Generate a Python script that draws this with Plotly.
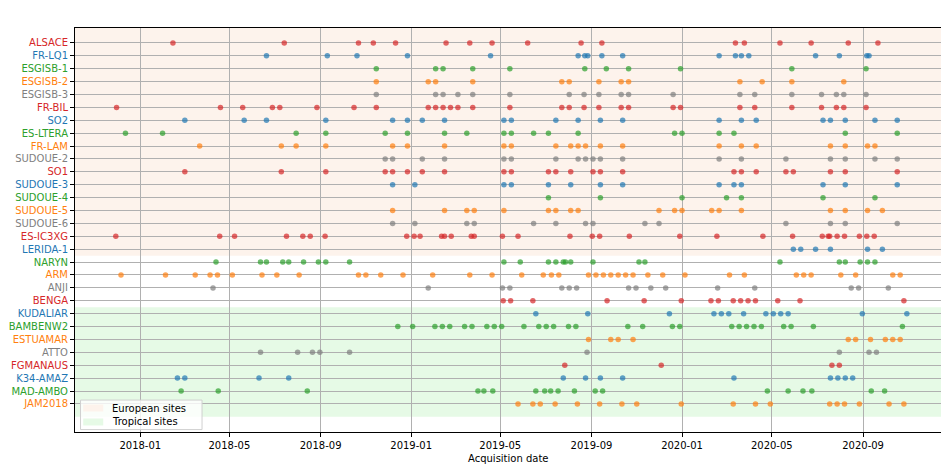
import plotly.graph_objects as go

SITES = ["ALSACE", "FR-LQ1", "ESGISB-1", "ESGISB-2", "ESGISB-3", "FR-BIL", "SO2", "ES-LTERA",
         "FR-LAM", "SUDOUE-2", "SO1", "SUDOUE-3", "SUDOUE-4", "SUDOUE-5", "SUDOUE-6", "ES-IC3XG",
         "LERIDA-1", "NARYN", "ARM", "ANJI", "BENGA", "KUDALIAR", "BAMBENW2", "ESTUAMAR", "ATTO",
         "FGMANAUS", "K34-AMAZ", "MAD-AMBO", "JAM2018"]

ALSACE = ["2018-02-14", "2018-07-14", "2018-10-22", "2018-11-11", "2018-12-11", "2019-02-17", "2019-03-21",
          "2019-04-20", "2019-06-07", "2019-08-18", "2019-09-15", "2020-03-13", "2020-03-25", "2020-05-12",
          "2020-06-23", "2020-08-12", "2020-09-21"]
FR_LQ1 = ["2018-06-20", "2018-09-10", "2018-10-20", "2018-12-27", "2019-04-18", "2019-08-14", "2019-08-23",
          "2019-08-27", "2019-09-15", "2019-10-13", "2020-02-20", "2020-03-13", "2020-03-21", "2020-03-31",
          "2020-06-29", "2020-07-31", "2020-09-06", "2020-09-09"]
ESGISB_1 = ["2018-11-15", "2019-02-03", "2019-02-13", "2019-03-25", "2019-05-14", "2019-08-23", "2019-09-21",
            "2019-10-21", "2019-12-30", "2020-05-28", "2020-09-05"]
ESGISB_2 = ["2018-11-15", "2019-01-24", "2019-02-03", "2019-03-25", "2019-07-23", "2019-08-02", "2019-09-11",
            "2019-10-11", "2019-10-21", "2020-03-19", "2020-04-18", "2020-05-28", "2020-08-06"]
ESGISB_3 = ["2018-11-15", "2019-02-03", "2019-02-13", "2019-03-05", "2019-03-25", "2019-05-14", "2019-08-02",
            "2019-08-22", "2019-09-11", "2019-10-11", "2019-10-21", "2019-12-20", "2020-03-19", "2020-04-08",
            "2020-05-28", "2020-07-07", "2020-07-27", "2020-08-06", "2020-09-05"]
FR_BIL = ["2017-11-30", "2018-04-19", "2018-05-19", "2018-06-28", "2018-07-08", "2018-08-27", "2018-10-16",
          "2018-11-15", "2019-01-24", "2019-02-03", "2019-02-13", "2019-02-23", "2019-03-05", "2019-03-25",
          "2019-05-14", "2019-07-23", "2019-08-02", "2019-08-22", "2019-09-11", "2019-10-11", "2019-10-21",
          "2019-12-20", "2019-12-30", "2020-03-19", "2020-04-08", "2020-05-28", "2020-07-07", "2020-07-27",
          "2020-08-06", "2020-09-05"]
SO2 = ["2018-03-02", "2018-05-21", "2018-06-20", "2018-09-08", "2018-12-07", "2018-12-27", "2019-01-16",
       "2019-02-15", "2019-05-06", "2019-05-16", "2019-07-15", "2019-08-14", "2019-09-13", "2019-10-13",
       "2020-02-20", "2020-03-21", "2020-04-10", "2020-07-09", "2020-07-19", "2020-08-08", "2020-09-17",
       "2020-10-17"]
ES_LTERA = ["2017-12-12", "2018-01-31", "2018-07-30", "2018-09-08", "2018-11-27", "2018-12-27", "2019-02-15",
            "2019-03-17", "2019-05-06", "2019-05-16", "2019-06-15", "2019-07-05", "2019-08-14", "2019-12-22",
            "2020-01-01", "2020-02-20", "2020-03-11", "2020-08-08", "2020-10-17"]
FR_LAM = ["2018-03-22", "2018-07-10", "2018-07-30", "2018-09-08", "2018-12-07", "2018-12-27", "2019-02-15",
          "2019-05-06", "2019-05-16", "2019-07-15", "2019-08-04", "2019-08-14", "2019-08-24", "2019-09-13",
          "2019-10-13", "2020-02-20", "2020-03-21", "2020-04-10", "2020-07-19", "2020-08-08", "2020-09-07",
          "2020-09-17"]
SUDOUE_2 = ["2018-11-27", "2018-12-07", "2019-01-16", "2019-02-15", "2019-05-06", "2019-05-16", "2019-07-15",
            "2019-08-14", "2019-08-24", "2019-09-03", "2019-09-13", "2019-10-13", "2020-02-20", "2020-03-21",
            "2020-05-20", "2020-07-19", "2020-08-08", "2020-09-17", "2020-10-17"]
SO1 = ["2018-03-02", "2018-07-10", "2018-09-08", "2018-11-27", "2018-12-07", "2018-12-27", "2019-01-16",
       "2019-02-15", "2019-05-06", "2019-05-16", "2019-07-05", "2019-07-15", "2019-08-04", "2019-09-03",
       "2019-09-13", "2019-10-13", "2020-03-11", "2020-03-21", "2020-04-10", "2020-05-20", "2020-05-30",
       "2020-07-19", "2020-08-08", "2020-10-17"]
SUDOUE_3 = ["2018-12-07", "2019-01-06", "2019-05-06", "2019-05-16", "2019-07-05", "2019-08-04", "2019-09-13",
            "2019-10-13", "2020-02-20", "2020-03-11", "2020-03-21", "2020-07-09", "2020-08-08", "2020-10-17"]
SUDOUE_4 = ["2019-07-05", "2019-09-13", "2020-01-01", "2020-03-01", "2020-03-21", "2020-07-09", "2020-09-17"]
SUDOUE_5 = ["2018-12-07", "2019-02-15", "2019-03-17", "2019-03-27", "2019-05-06", "2019-07-05", "2019-07-15",
            "2019-08-04", "2019-08-14", "2019-12-01", "2019-12-22", "2020-01-01", "2020-02-10", "2020-02-20",
            "2020-03-21", "2020-07-19", "2020-08-08", "2020-09-07", "2020-09-27"]
SUDOUE_6 = ["2018-12-07", "2019-01-06", "2019-03-17", "2019-03-27", "2019-06-15", "2019-07-15", "2019-08-24",
            "2019-09-03", "2019-11-12", "2019-12-01", "2020-05-20", "2020-07-19", "2020-08-08", "2020-10-17"]
ES_IC3XG = ["2017-11-29", "2018-04-18", "2018-05-08", "2018-07-17", "2018-08-08", "2018-08-18", "2018-09-07",
            "2018-12-26", "2019-01-05", "2019-01-13", "2019-02-11", "2019-02-15", "2019-02-24", "2019-03-23",
            "2019-03-27", "2019-05-04", "2019-05-25", "2019-08-03", "2019-09-02", "2019-09-12", "2019-10-22",
            "2019-12-29", "2020-02-17", "2020-04-19", "2020-05-29", "2020-07-08", "2020-07-16", "2020-07-18",
            "2020-07-28", "2020-08-07", "2020-08-27", "2020-09-06", "2020-09-16"]
LERIDA_1 = ["2020-05-30", "2020-06-09", "2020-06-29", "2020-07-19", "2020-09-07", "2020-09-27"]
NARYN = ["2018-04-13", "2018-06-12", "2018-06-20", "2018-07-12", "2018-07-20", "2018-08-09", "2018-08-29",
         "2018-09-08", "2018-10-10", "2019-05-06", "2019-05-28", "2019-07-05", "2019-07-15", "2019-07-25",
         "2019-07-28", "2019-08-04", "2019-09-03", "2019-11-04", "2019-11-12", "2020-05-12", "2020-07-31",
         "2020-08-08", "2020-08-28", "2020-09-07", "2020-09-17"]
ARM = ["2017-12-06", "2018-02-04", "2018-03-16", "2018-04-05", "2018-04-15", "2018-05-05", "2018-06-14",
       "2018-07-04", "2018-08-03", "2018-10-22", "2018-11-01", "2018-11-21", "2018-12-21", "2019-01-30",
       "2019-03-21", "2019-04-20", "2019-05-30", "2019-06-28", "2019-07-09", "2019-07-19", "2019-08-28",
       "2019-09-07", "2019-09-17", "2019-09-27", "2019-10-07", "2019-10-17", "2019-10-27", "2019-11-16",
       "2019-12-06", "2020-01-05", "2020-03-05", "2020-03-25", "2020-06-03", "2020-06-13", "2020-06-23",
       "2020-08-02", "2020-08-22", "2020-10-11", "2020-10-21"]
ANJI = ["2018-04-09", "2019-01-24", "2019-05-04", "2019-05-14", "2019-07-23", "2019-08-02", "2019-08-12",
        "2019-10-21", "2019-10-31", "2019-11-20", "2019-12-10", "2020-02-18", "2020-04-08", "2020-08-16",
        "2020-08-26", "2020-10-05"]
BENGA = ["2019-05-05", "2019-05-15", "2019-06-14", "2019-09-22", "2019-11-11", "2019-12-31", "2020-02-09",
         "2020-02-19", "2020-03-10", "2020-03-20", "2020-03-30", "2020-04-09", "2020-05-09", "2020-06-08",
         "2020-10-26"]
KUDALIAR = ["2019-06-18", "2019-08-27", "2019-12-15", "2020-02-13", "2020-02-23", "2020-03-04", "2020-03-24",
            "2020-04-23", "2020-05-03", "2020-05-13", "2020-05-23", "2020-08-31", "2020-10-30"]
BAMBENW2 = ["2018-12-14", "2019-01-03", "2019-02-02", "2019-02-12", "2019-02-22", "2019-03-14", "2019-03-24",
            "2019-04-13", "2019-04-23", "2019-05-03", "2019-06-02", "2019-06-22", "2019-07-02", "2019-07-12",
            "2019-08-01", "2019-08-11", "2019-10-20", "2019-11-09", "2019-12-19", "2019-12-29", "2020-03-08",
            "2020-03-18", "2020-03-28", "2020-04-07", "2020-04-17", "2020-05-17", "2020-05-27", "2020-06-26",
            "2020-10-24"]
ESTUAMAR = ["2019-08-28", "2019-09-27", "2019-10-07", "2019-10-27", "2020-08-12", "2020-08-22", "2020-09-11",
            "2020-10-01", "2020-10-11", "2020-10-21"]
ATTO = ["2018-06-12", "2018-08-01", "2018-08-21", "2018-08-31", "2018-10-10", "2019-08-26", "2020-07-31",
        "2020-09-09", "2020-09-19"]
FGMANAUS = ["2019-07-27", "2019-12-04", "2020-07-21", "2020-07-31"]
K34_AMAZ = ["2018-02-20", "2018-03-02", "2018-06-10", "2018-07-20", "2019-07-25", "2019-08-24", "2019-09-13",
            "2019-10-13", "2020-03-11", "2020-07-19", "2020-07-29", "2020-08-08", "2020-08-18"]
MAD_AMBO = ["2018-02-25", "2018-04-16", "2018-08-14", "2019-04-01", "2019-04-09", "2019-04-21", "2019-06-18",
            "2019-06-30", "2019-07-08", "2019-07-18", "2019-08-09", "2019-09-06", "2019-09-16", "2020-04-25",
            "2020-05-23", "2020-06-12", "2020-06-24", "2020-09-12", "2020-09-30"]
JAM2018 = ["2019-05-25", "2019-06-14", "2019-06-24", "2019-07-14", "2019-08-13", "2019-09-12", "2019-10-12",
           "2019-11-01", "2019-12-31", "2020-03-10", "2020-04-09", "2020-04-29", "2020-07-18", "2020-07-28",
           "2020-08-07", "2020-08-27", "2020-10-06", "2020-10-26"]

DATES = [ALSACE, FR_LQ1, ESGISB_1, ESGISB_2, ESGISB_3, FR_BIL, SO2, ES_LTERA, FR_LAM, SUDOUE_2, SO1,
         SUDOUE_3, SUDOUE_4, SUDOUE_5, SUDOUE_6, ES_IC3XG, LERIDA_1, NARYN, ARM, ANJI, BENGA, KUDALIAR,
         BAMBENW2, ESTUAMAR, ATTO, FGMANAUS, K34_AMAZ, MAD_AMBO, JAM2018]

LEGEND_LABELS = ["European sites", "Tropical sites"]
X_TITLE = "Acquisition date"

PALETTE = ["#d62728", "#1f77b4", "#2ca02c", "#ff7f0e", "#7f7f7f"]
PALETTE_RGBA = ["rgba(214,39,40,0.7)", "rgba(31,119,180,0.7)", "rgba(44,160,44,0.7)",
                "rgba(255,127,14,0.7)", "rgba(127,127,127,0.7)"]
EURO_FILL = "#fdf3ec"
TROP_FILL = "#e6fae6"
BAND_FILLS = [EURO_FILL, TROP_FILL]

fig = go.Figure()

# background bands
fig.add_shape(type="rect", xref="paper", yref="y", x0=0, x1=1, y0=-1.2, y1=16.5,
              fillcolor=EURO_FILL, line_width=0, layer="below")
fig.add_shape(type="rect", xref="paper", yref="y", x0=0, x1=1, y0=20.5, y1=29.0,
              fillcolor=TROP_FILL, line_width=0, layer="below")

for i, (site, dates) in enumerate(zip(SITES, DATES)):
    fig.add_trace(go.Scatter(
        x=dates, y=[i] * len(dates), mode="markers", showlegend=False,
        marker=dict(size=5.5, color=PALETTE_RGBA[i % 5], line=dict(width=0)),
        name=site))

# legend drawn in the lower-left corner of the axes
fig.add_shape(type="rect", xref="paper", yref="paper", x0=0.0064, x1=0.1467, y0=0.006, y1=0.079,
              fillcolor="rgba(255,255,255,0.8)", line=dict(color="#d0d0d0", width=1), layer="above")
item_y = [0.0594, 0.0248]
for lab, col, yc in zip(LEGEND_LABELS, BAND_FILLS, item_y):
    fig.add_shape(type="rect", xref="paper", yref="paper", x0=0.0095, x1=0.0326,
                  y0=yc - 0.0087, y1=yc + 0.0087, fillcolor=col, line_width=0, layer="above")
    fig.add_annotation(text=lab, xref="paper", yref="paper", x=0.0400, y=yc, xanchor="left",
                       yanchor="middle", showarrow=False, font=dict(size=10))

fig.add_annotation(text=X_TITLE, xref="paper", yref="paper", x=0.5, y=0, yshift=-19,
                   showarrow=False, xanchor="center", yanchor="top", font=dict(size=10))

ticktext = [f'<span style="color:{PALETTE[i % 5]}">{s}</span>' for i, s in enumerate(SITES)]

fig.update_layout(
    width=941, height=464,
    margin=dict(l=75, r=0, t=28, b=32),
    paper_bgcolor="white", plot_bgcolor="white",
    font=dict(family="DejaVu Sans", size=10, color="black"),
    showlegend=False,
)
fig.update_xaxes(
    type="date", range=["2017-10-05", "2020-12-15"], automargin=False,
    tick0="2018-01-01", dtick="M4", tickformat="%Y-%m",
    showgrid=True, gridcolor="#b0b0b0", gridwidth=1,
    ticks="outside", ticklen=4, tickcolor="black",
    showline=True, linecolor="black", linewidth=1, mirror=True,
    zeroline=False,
)
fig.update_yaxes(
    range=[30.18, -1.16], automargin=False,
    tickmode="array", tickvals=list(range(len(SITES))), ticktext=ticktext,
    showgrid=True, gridcolor="#b0b0b0", gridwidth=1,
    ticks="outside", ticklen=4, tickcolor="black",
    showline=True, linecolor="black", linewidth=1, mirror=True,
    zeroline=False,
)

fig.write_html(
    "out.html",
    config={"displayModeBar": False},
    post_script=("document.documentElement.style.overflow='hidden';"
                 "document.body.style.overflow='hidden';document.body.style.margin='0';"),
)
